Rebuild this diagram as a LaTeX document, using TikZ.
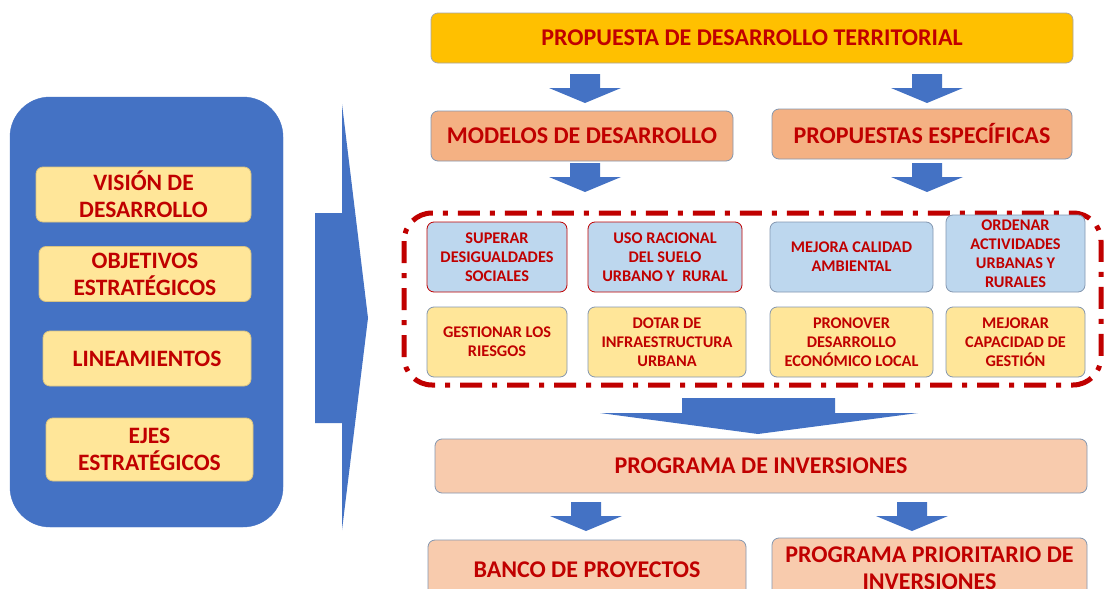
\documentclass[tikz,border=0pt]{standalone}
\usepackage{fontspec}
\setmainfont{Carlito}
\definecolor{ablue}{HTML}{4472C4}
\definecolor{gold}{HTML}{FFC000}
\definecolor{salmon}{HTML}{F4B183}
\definecolor{peach}{HTML}{F8CBAD}
\definecolor{lblue}{HTML}{BDD7EE}
\definecolor{lyellow}{HTML}{FFE699}
\definecolor{dred}{HTML}{C00000}
\definecolor{bgray}{HTML}{8497B0}
\tikzset{
  box/.style={draw=bgray, line width=0.8pt, rounded corners=7pt, text=dred,
    font=\bfseries, align=center, inner sep=0pt},
  bigtxt/.style={font=\fontsize{24}{29}\selectfont\bfseries},
  midtxt/.style={font=\fontsize{23.5}{27}\selectfont\bfseries},
  smltxt/.style={font=\fontsize{16.3}{19}\selectfont\bfseries},
  lbox/.style={box, midtxt, draw=lyellow!85!black, fill=lyellow},
  darrow/.pic={\fill[ablue] (-15,0) -- (15,0) -- (15,14) -- (36,14) -- (0,29) -- (-36,14) -- (-15,14) -- cycle;}
}
\begin{document}
\begin{tikzpicture}[x=1pt,y=-1pt]
\useasboundingbox[fill=white] (0,0) rectangle (1104,589);
% left panel
\node[draw=ablue, fill=ablue, rounded corners=40pt, minimum width=273pt, minimum height=430pt, inner sep=0pt] (panel) at (146.5,312) {};
\node[lbox, minimum width=215pt, minimum height=55pt] (vision) at (143.5,194.5) {VISIÓN DE\\DESARROLLO};
\node[lbox, minimum width=212pt, minimum height=55pt] (obj) at (145,274) {OBJETIVOS\\ESTRATÉGICOS};
\node[lbox, minimum width=208pt, minimum height=55pt] (lin) at (147,358.5) {LINEAMIENTOS};
\node[lbox, minimum width=207pt, minimum height=63pt] (ejes) at (149.5,449.5) {EJES\\ESTRATÉGICOS};
% big right arrow
\fill[ablue] (315,213) -- (342,213) -- (342,104) -- (368,318) -- (342,530) -- (342,423) -- (315,423) -- cycle;
% top
\node[box, bigtxt, draw=gray!70, fill=gold, minimum width=642pt, minimum height=50pt] (prop) at (752,38) {PROPUESTA DE DESARROLLO TERRITORIAL};
\pic at (585,74) {darrow};
\pic at (927,74) {darrow};
\node[box, bigtxt, fill=salmon, minimum width=302pt, minimum height=50pt] (mod) at (582,136) {MODELOS DE DESARROLLO};
\node[box, bigtxt, fill=salmon, minimum width=300pt, minimum height=50pt] (esp) at (922,134) {PROPUESTAS ESPECÍFICAS};
\pic at (585,163) {darrow};
\pic at (927,163) {darrow};
% dashed group
\draw[dred, line width=5pt, rounded corners=28pt, dash pattern=on 22pt off 10pt on 5pt off 10pt] (404,213) rectangle (1101,385);
% row 1
\node[box, smltxt, draw=dred, fill=lblue, minimum width=140pt, minimum height=70pt] (sup) at (497,257) {SUPERAR\\DESIGUALDADES\\SOCIALES};
\node[box, smltxt, draw=dred, fill=lblue, minimum width=154pt, minimum height=70pt] (uso) at (665,257) {USO RACIONAL\\DEL SUELO\\URBANO Y~ RURAL};
\node[box, smltxt, fill=lblue, minimum width=163pt, minimum height=70pt] (mej) at (851.5,257) {MEJORA CALIDAD\\AMBIENTAL};
\node[box, smltxt, fill=lblue, minimum width=139pt, minimum height=77pt] (ord) at (1015.5,253.5) {ORDENAR\\ACTIVIDADES\\URBANAS Y\\RURALES};
% row 2
\node[box, smltxt, fill=lyellow, minimum width=140pt, minimum height=70pt] (ges) at (497,342) {GESTIONAR LOS\\RIESGOS};
\node[box, smltxt, fill=lyellow, minimum width=158pt, minimum height=70pt] (dot) at (667,342) {DOTAR DE\\INFRAESTRUCTURA\\URBANA};
\node[box, smltxt, fill=lyellow, minimum width=163pt, minimum height=70pt] (pro) at (851.5,342) {PRONOVER\\DESARROLLO\\ECONÓMICO LOCAL};
\node[box, smltxt, fill=lyellow, minimum width=139pt, minimum height=70pt] (mjr) at (1015.5,342) {MEJORAR\\CAPACIDAD DE\\GESTIÓN};
% big down arrow
\fill[ablue] (682,398) -- (835,398) -- (835,413) -- (918,413) -- (758,434) -- (600,413) -- (682,413) -- cycle;
\node[box, bigtxt, fill=peach, minimum width=652pt, minimum height=54pt] (inv) at (761,466) {PROGRAMA DE INVERSIONES};
\pic at (586,502) {darrow};
\pic at (912,502) {darrow};
\node[box, bigtxt, fill=peach, minimum width=318pt, minimum height=60pt] (ban) at (587,570) {BANCO DE PROYECTOS};
\node[box, font=\fontsize{24}{27}\selectfont\bfseries, fill=peach, minimum width=315pt, minimum height=60pt] (pri) at (929.5,568) {PROGRAMA PRIORITARIO DE\\INVERSIONES};
\end{tikzpicture}
\end{document}
